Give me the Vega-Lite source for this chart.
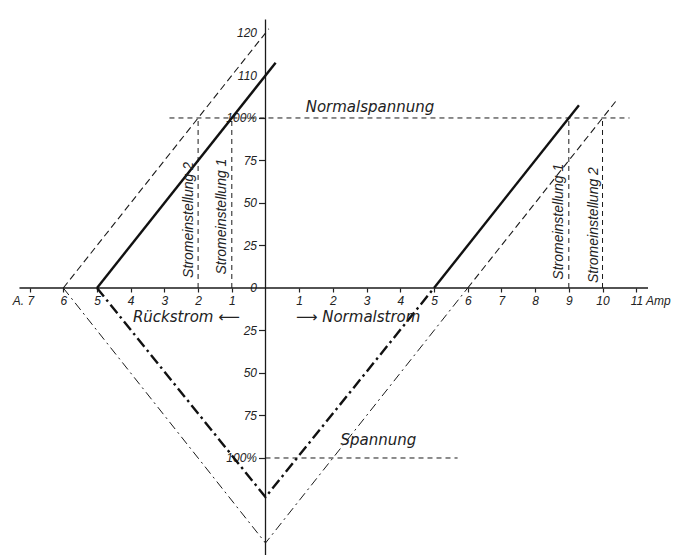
{
  "$schema": "https://vega.github.io/schema/vega-lite/v6.json",
  "width": 676,
  "height": 560,
  "padding": 0,
  "autosize": {"type": "none"},
  "background": "white",
  "config": {"view": {"stroke": null}, "font": "Liberation Sans"},
  "datasets": {
    "lines": [
      {"s": "solid_left", "style": "solid", "o": 1, "x": -5, "y": 0},
      {"s": "solid_left", "style": "solid", "o": 2, "x": 0.3, "y": 132.5},
      {"s": "solid_right", "style": "solid", "o": 1, "x": 5, "y": 0},
      {"s": "solid_right", "style": "solid", "o": 2, "x": 9.3, "y": 107.5},
      {"s": "dash_left", "style": "dashed", "o": 1, "x": -6, "y": 0},
      {"s": "dash_left", "style": "dashed", "o": 2, "x": 0.1, "y": 152.5},
      {"s": "dash_right", "style": "dashed", "o": 1, "x": 6, "y": 0},
      {"s": "dash_right", "style": "dashed", "o": 2, "x": 10.4, "y": 110},
      {"s": "dd_thick", "style": "dashdot_thick", "o": 1, "x": -5, "y": 0},
      {"s": "dd_thick", "style": "dashdot_thick", "o": 2, "x": 0, "y": -123},
      {"s": "dd_thick", "style": "dashdot_thick", "o": 3, "x": 5, "y": 0},
      {"s": "dd_thin", "style": "dashdot_thin", "o": 1, "x": -6, "y": 0},
      {"s": "dd_thin", "style": "dashdot_thin", "o": 2, "x": 0, "y": -150},
      {"s": "dd_thin", "style": "dashdot_thin", "o": 3, "x": 6, "y": 0},
      {"s": "normalspannung", "style": "ref", "o": 1, "x": -2.85, "y": 100},
      {"s": "normalspannung", "style": "ref", "o": 2, "x": 10.8, "y": 100},
      {"s": "spannung", "style": "ref", "o": 1, "x": 0, "y": -100},
      {"s": "spannung", "style": "ref", "o": 2, "x": 5.7, "y": -100},
      {"s": "v_m2", "style": "ref", "o": 1, "x": -2, "y": 0},
      {"s": "v_m2", "style": "ref", "o": 2, "x": -2, "y": 100},
      {"s": "v_m1", "style": "ref", "o": 1, "x": -1, "y": 0},
      {"s": "v_m1", "style": "ref", "o": 2, "x": -1, "y": 100},
      {"s": "v_9", "style": "ref", "o": 1, "x": 9, "y": 0},
      {"s": "v_9", "style": "ref", "o": 2, "x": 9, "y": 100},
      {"s": "v_10", "style": "ref", "o": 1, "x": 10, "y": 0},
      {"s": "v_10", "style": "ref", "o": 2, "x": 10, "y": 100},
      {"s": "axis_x", "style": "axis", "o": 1, "x": -7.3, "y": 0},
      {"s": "axis_x", "style": "axis", "o": 2, "x": 11.35, "y": 0},
      {"s": "axis_y", "style": "axis", "o": 1, "x": 0, "y": 158},
      {"s": "axis_y", "style": "axis", "o": 2, "x": 0, "y": -157}
    ],
    "rotlabels": [
      {"t": "Stromeinstellung 2", "x": -2.27, "y": 40},
      {"t": "Stromeinstellung 1", "x": -1.28, "y": 42},
      {"t": "Stromeinstellung 1", "x": 8.72, "y": 39},
      {"t": "Stromeinstellung 2", "x": 9.75, "y": 37}
    ],
    "labels": [
      {"t": "Normalspannung", "x": 3.1, "y": 106.5},
      {"t": "Spannung", "x": 3.35, "y": -89.5},
      {"t": "Rückstrom  ⟵", "x": -2.35, "y": -17},
      {"t": "⟶  Normalstrom", "x": 2.75, "y": -17}
    ]
  },
  "encoding": {
    "x": {
      "field": "x", "type": "quantitative",
      "scale": {"domain": [-7.878, 12.18], "nice": false, "zero": false},
      "axis": {
        "orient": "bottom", "offset": -272, "domain": false, "grid": false, "title": null,
        "ticks": true, "labelOverlap": false, "labelBound": false,
        "values": [-7, -6, -5, -4, -3, -2, -1, 1, 2, 3, 4, 5, 6, 7, 8, 9, 10, 11],
        "labelExpr": "datum.value == -7 ? 'A. 7' : datum.value == 11 ? '11 Amp' : '' + abs(datum.value)",
        "labelAlign": {"expr": "datum.value == -7 ? 'right' : datum.value == 11 ? 'left' : 'center'"},
        "labelOffset": {"expr": "datum.value == -7 ? 4 : datum.value == 11 ? -6 : 0"},
        "tickSize": 4, "tickColor": "#222", "tickWidth": 1.2,
        "labelPadding": 3, "labelFontSize": 12, "labelFontStyle": "italic",
        "labelColor": "#222", "labelFont": "Liberation Sans"
      }
    },
    "y": {
      "field": "y", "type": "quantitative",
      "scale": {"domain": [-160, 169.4], "nice": false, "zero": false},
      "axis": {
        "orient": "left", "offset": -265.5, "domain": false, "grid": false, "title": null,
        "labelOverlap": false, "labelBound": false,
        "values": [-100, -75, -50, -25, 0, 25, 50, 75, 100, 125, 150],
        "labelExpr": "datum.value == 150 ? '120' : datum.value == 125 ? '110' : abs(datum.value) == 100 ? '100%' : '' + abs(datum.value)",
        "tickOpacity": {"expr": "datum.value > 100 || datum.value == 0 ? 0 : 1"},
        "tickSize": 7, "tickColor": "#222", "tickWidth": 1.2,
        "labelPadding": 2, "labelFontSize": 12, "labelFontStyle": "italic",
        "labelColor": "#222", "labelFont": "Liberation Sans"
      }
    }
  },
  "layer": [
    {
      "data": {"name": "lines"},
      "transform": [{"filter": "datum.style == 'axis'"}],
      "mark": {"type": "line", "color": "#1a1a1a", "strokeWidth": 1.3},
      "encoding": {"order": {"field": "o"}, "detail": {"field": "s"}}
    },
    {
      "data": {"name": "lines"},
      "transform": [{"filter": "datum.style == 'ref'"}],
      "mark": {"type": "line", "color": "#1a1a1a", "strokeWidth": 1, "strokeDash": [5, 4]},
      "encoding": {"order": {"field": "o"}, "detail": {"field": "s"}}
    },
    {
      "data": {"name": "lines"},
      "transform": [{"filter": "datum.style == 'solid'"}],
      "mark": {"type": "line", "color": "#111", "strokeWidth": 2.4},
      "encoding": {"order": {"field": "o"}, "detail": {"field": "s"}}
    },
    {
      "data": {"name": "lines"},
      "transform": [{"filter": "datum.style == 'dashed'"}],
      "mark": {"type": "line", "color": "#1a1a1a", "strokeWidth": 1.1, "strokeDash": [7, 4]},
      "encoding": {"order": {"field": "o"}, "detail": {"field": "s"}}
    },
    {
      "data": {"name": "lines"},
      "transform": [{"filter": "datum.style == 'dashdot_thick'"}],
      "mark": {"type": "line", "color": "#111", "strokeWidth": 2.4, "strokeDash": [11, 4, 2.5, 4]},
      "encoding": {"order": {"field": "o"}, "detail": {"field": "s"}}
    },
    {
      "data": {"name": "lines"},
      "transform": [{"filter": "datum.style == 'dashdot_thin'"}],
      "mark": {"type": "line", "color": "#1a1a1a", "strokeWidth": 1, "strokeDash": [9, 4, 2, 4]},
      "encoding": {"order": {"field": "o"}, "detail": {"field": "s"}}
    },
    {
      "data": {"name": "rotlabels"},
      "mark": {"type": "text", "angle": 270, "fontStyle": "italic", "fontSize": 14, "font": "Liberation Sans", "color": "#222", "align": "center", "baseline": "middle"},
      "encoding": {"text": {"field": "t"}}
    },
    {
      "data": {"name": "labels"},
      "mark": {"type": "text", "fontStyle": "italic", "fontSize": 15, "font": "DejaVu Sans", "color": "#222", "align": "center", "baseline": "middle"},
      "encoding": {"text": {"field": "t"}}
    }
  ]
}
